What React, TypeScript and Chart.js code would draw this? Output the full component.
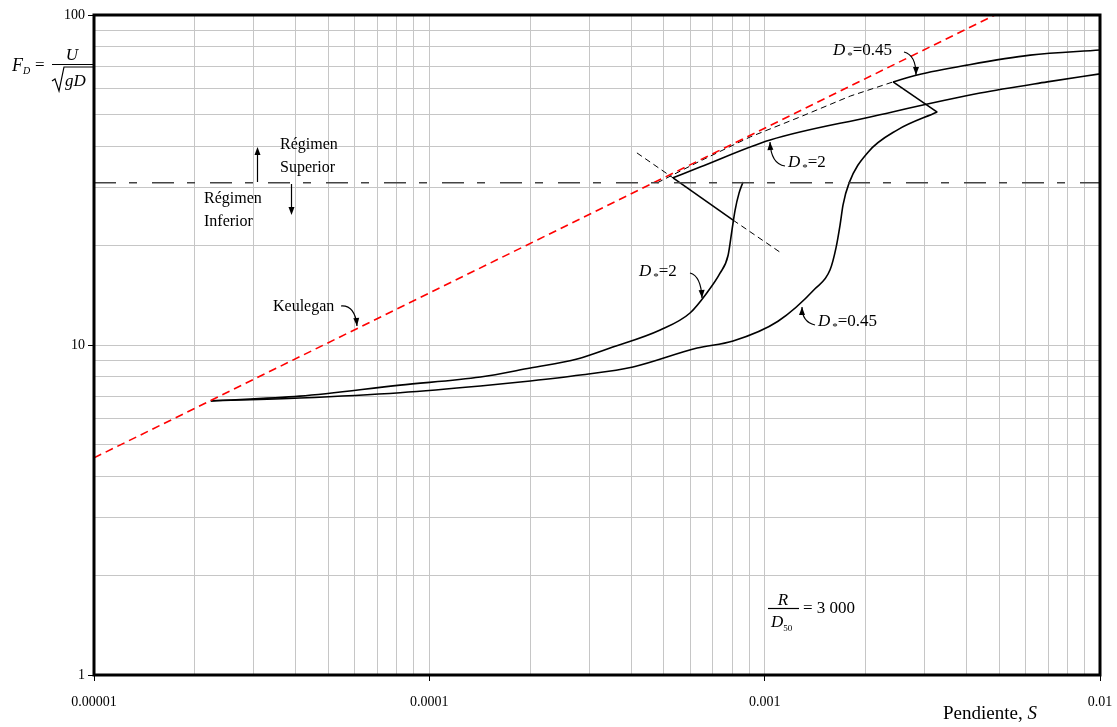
import React, { useEffect, useRef } from 'react';
import { Chart, registerables } from 'chart.js';
Chart.register(...registerables);

// ---- axes ----
const xDecades = [1e-5, 1e-4, 1e-3, 1e-2];
const xTickLabels = ['0.00001', '0.0001', '0.001', '0.01'];
const yDecades = [1, 10, 100];
const yTickLabels = ['1', '10', '100'];

// ---- D* = 2, lower regime branch ----
const d2LowerS = [2.23e-5, 4.11e-5, 8.18e-5, 1.42e-4, 2.0e-4, 2.76e-4, 3.46e-4, 4.88e-4, 5.99e-4, 6.73e-4, 7.36e-4, 7.78e-4, 7.99e-4, 8.16e-4, 8.39e-4, 8.62e-4];
const d2LowerF = [6.77, 7.0, 7.56, 8.0, 8.52, 9.07, 9.79, 11.1, 12.5, 14.4, 16.5, 18.7, 22.3, 25.6, 28.9, 31.2];

// ---- D* = 2, upper regime branch ----
const d2UpperS = [5.33e-4, 6.42e-4, 1.038e-3, 2.063e-3, 4.39e-3, 6.96e-3, 1e-2];
const d2UpperF = [32.1, 34.6, 41.8, 49.1, 58.0, 62.7, 66.3];

// ---- D* = 2 transition (solid part + dashed extensions) ----
const d2JumpS = [5.33e-4, 8.05e-4];
const d2JumpF = [32.1, 23.9];
const d2JumpExtUpS = [4.16e-4, 5.33e-4];
const d2JumpExtUpF = [38.2, 32.1];
const d2JumpExtDownS = [8.05e-4, 1.112e-3];
const d2JumpExtDownF = [23.9, 19.1];

// ---- D* = 0.45, lower regime branch ----
const d045LowerS = [2.23e-5, 4.11e-5, 8.18e-5, 1.42e-4, 2.0e-4, 2.82e-4, 4.05e-4, 6.29e-4, 8.05e-4, 1.096e-3, 1.413e-3, 1.567e-3, 1.632e-3, 1.678e-3, 1.713e-3, 1.786e-3, 2.034e-3, 2.483e-3, 3.27e-3];
const d045LowerF = [6.77, 6.91, 7.17, 7.51, 7.78, 8.11, 8.58, 9.79, 10.28, 11.8, 14.8, 16.9, 19.7, 23.1, 26.6, 31.0, 38.4, 44.8, 50.8];

// ---- D* = 0.45 jump and upper regime branch ----
const d045JumpS = [3.27e-3, 2.415e-3];
const d045JumpF = [50.8, 62.7];
const d045UpperS = [2.415e-3, 2.85e-3, 4.01e-3, 6.19e-3, 1e-2];
const d045UpperF = [62.7, 65.8, 70.5, 75.6, 78.3];

// ---- D* = 0.45 upper branch dashed extension ----
const d045ExtS = [4.78e-4, 6.42e-4, 9.05e-4, 1.275e-3, 1.8e-3, 2.415e-3];
const d045ExtF = [31.0, 36.1, 42.7, 49.1, 56.8, 62.7];

// ---- Keulegan line ----
const keuleganS = [1e-5, 4.86e-3];
const keuleganF = [4.55, 100];

// ---- regime boundary ----
const regimeS = [1e-5, 1e-2];
const regimeF = [31.0, 31.0];

const SERIF = '"Liberation Serif", "Times New Roman", serif';

const pts = (xs: number[], ys: number[]) => xs.map((x, i) => ({ x, y: ys[i] }));

const isDecade = (v: number) => Math.abs(Math.log10(v) - Math.round(Math.log10(v))) < 1e-6;

const gridValues = (decades: number[]) => {
  const out: number[] = [];
  for (let i = 0; i < decades.length - 1; i++) {
    for (let m = 1; m <= 9; m++) out.push(decades[i] * m);
  }
  out.push(decades[decades.length - 1]);
  return out;
};

const labelFor = (value: number, decades: number[], labels: string[]) => {
  const i = decades.findIndex((d) => Math.abs(d - value) / d < 1e-6);
  return i >= 0 ? labels[i] : '';
};

function txt(ctx: CanvasRenderingContext2D, s: string, x: number, y: number, font: string, align: CanvasTextAlign = 'left') {
  ctx.font = font;
  ctx.textAlign = align;
  ctx.textBaseline = 'alphabetic';
  ctx.fillText(s, x, y);
  return ctx.measureText(s).width;
}

function arrowHead(ctx: CanvasRenderingContext2D, x: number, y: number, ang: number) {
  const L = 8, W = 3;
  ctx.beginPath();
  ctx.moveTo(x, y);
  ctx.lineTo(x - L * Math.cos(ang) + W * Math.sin(ang), y - L * Math.sin(ang) - W * Math.cos(ang));
  ctx.lineTo(x - L * Math.cos(ang) - W * Math.sin(ang), y - L * Math.sin(ang) + W * Math.cos(ang));
  ctx.closePath();
  ctx.fill();
}

function curveArrow(ctx: CanvasRenderingContext2D, x0: number, y0: number, cx: number, cy: number, x1: number, y1: number) {
  ctx.beginPath();
  ctx.moveTo(x0, y0);
  ctx.quadraticCurveTo(cx, cy, x1, y1);
  ctx.stroke();
  arrowHead(ctx, x1, y1, Math.atan2(y1 - cy, x1 - cx));
}

function dStar(ctx: CanvasRenderingContext2D, x: number, y: number, rest: string) {
  let w = txt(ctx, 'D', x, y, `italic 17px ${SERIF}`);
  x += w + 2;
  w = txt(ctx, '*', x, y + 4, `11px ${SERIF}`);
  x += w;
  txt(ctx, rest, x, y, `17px ${SERIF}`);
}

const overlayPlugin = {
  id: 'overlay',
  afterDatasetsDraw(chart: any) {
    const ctx: CanvasRenderingContext2D = chart.ctx;
    const a = chart.chartArea;
    ctx.save();
    ctx.strokeStyle = '#000';
    ctx.lineWidth = 3;
    ctx.strokeRect(a.left, a.top, a.right - a.left, a.bottom - a.top);
    ctx.restore();
  },
  afterDraw(chart: any) {
    const ctx: CanvasRenderingContext2D = chart.ctx;
    ctx.save();
    ctx.fillStyle = '#000';
    ctx.strokeStyle = '#000';
    ctx.lineWidth = 1.2;

    // Y axis title: F_D = U / sqrt(gD)
    txt(ctx, 'F', 12, 71, `italic 18px ${SERIF}`);
    txt(ctx, 'D', 23, 74, `italic 10px ${SERIF}`);
    txt(ctx, '=', 35, 70, `17px ${SERIF}`);
    ctx.beginPath();
    ctx.moveTo(52, 64.5);
    ctx.lineTo(93, 64.5);
    ctx.stroke();
    txt(ctx, 'U', 72, 60, `italic 17px ${SERIF}`, 'center');
    ctx.beginPath();
    ctx.moveTo(52, 81);
    ctx.lineTo(55, 79);
    ctx.lineTo(59, 91);
    ctx.lineTo(64, 67);
    ctx.lineTo(93, 67);
    ctx.stroke();
    txt(ctx, 'gD', 65, 86, `italic 17px ${SERIF}`);

    // X axis title
    const w = txt(ctx, 'Pendiente, ', 943, 719, `19px ${SERIF}`);
    txt(ctx, 'S', 943 + w, 719, `italic 19px ${SERIF}`);

    // Regime labels
    txt(ctx, 'Régimen', 280, 149, `16px ${SERIF}`);
    txt(ctx, 'Superior', 280, 172, `16px ${SERIF}`);
    txt(ctx, 'Régimen', 204, 203, `16px ${SERIF}`);
    txt(ctx, 'Inferior', 204, 226, `16px ${SERIF}`);
    ctx.beginPath();
    ctx.moveTo(257.5, 182);
    ctx.lineTo(257.5, 152);
    ctx.stroke();
    arrowHead(ctx, 257.5, 147, -Math.PI / 2);
    ctx.beginPath();
    ctx.moveTo(291.5, 184);
    ctx.lineTo(291.5, 210);
    ctx.stroke();
    arrowHead(ctx, 291.5, 215, Math.PI / 2);

    // Keulegan
    txt(ctx, 'Keulegan', 273, 311, `16px ${SERIF}`);
    curveArrow(ctx, 341, 306, 355, 305, 357, 326);

    // D* labels
    dStar(ctx, 639, 276, '=2');
    curveArrow(ctx, 690, 273, 701, 276, 702, 298);
    dStar(ctx, 788, 167, '=2');
    curveArrow(ctx, 785, 166, 771, 164, 770, 142);
    dStar(ctx, 833, 55, '=0.45');
    curveArrow(ctx, 904, 52, 916, 55, 916, 75);
    dStar(ctx, 818, 326, '=0.45');
    curveArrow(ctx, 815, 325, 802, 322, 802, 307);

    // R / D50 = 3 000
    txt(ctx, 'R', 783, 605, `italic 17px ${SERIF}`, 'center');
    ctx.beginPath();
    ctx.moveTo(768, 608.5);
    ctx.lineTo(799, 608.5);
    ctx.stroke();
    const dw = txt(ctx, 'D', 771, 627, `italic 17px ${SERIF}`);
    txt(ctx, '50', 771 + dw, 631, `9px ${SERIF}`);
    txt(ctx, '= 3 000', 803, 613, `17px ${SERIF}`);

    ctx.restore();
  },
};

export default function App() {
  const ref = useRef<HTMLCanvasElement>(null);

  useEffect(() => {
    if (!ref.current) return;
    const line = (data: { x: number; y: number }[], extra: any) => ({
      data,
      showLine: true,
      pointRadius: 0,
      pointHoverRadius: 0,
      fill: false,
      borderColor: '#000',
      borderWidth: 1.6,
      tension: 0,
      ...extra,
    });

    const chart = new Chart(ref.current, {
      type: 'scatter',
      data: {
        datasets: [
          line(pts(regimeS, regimeF), { borderColor: '#444', borderWidth: 1.5, borderDash: [22, 13, 8, 15] }),
          line(pts(keuleganS, keuleganF), { borderColor: '#ff0000', borderWidth: 1.6, borderDash: [8, 5] }),
          line(pts(d045ExtS, d045ExtF), { borderWidth: 1, borderDash: [6, 4] }),
          line(pts(d2JumpExtUpS, d2JumpExtUpF), { borderWidth: 1, borderDash: [6, 4] }),
          line(pts(d2JumpExtDownS, d2JumpExtDownF), { borderWidth: 1, borderDash: [6, 4] }),
          line(pts(d2LowerS, d2LowerF), { cubicInterpolationMode: 'monotone' }),
          line(pts(d2JumpS, d2JumpF), {}),
          line(pts(d2UpperS, d2UpperF), { cubicInterpolationMode: 'monotone' }),
          line(pts(d045LowerS, d045LowerF), { cubicInterpolationMode: 'monotone' }),
          line(pts(d045JumpS, d045JumpF), {}),
          line(pts(d045UpperS, d045UpperF), { cubicInterpolationMode: 'monotone' }),
        ],
      },
      options: {
        animation: false,
        responsive: false,
        events: [],
        layout: { padding: { left: 0, right: 17, top: 15, bottom: 0 } },
        plugins: { legend: { display: false }, tooltip: { enabled: false } },
        scales: {
          x: {
            type: 'logarithmic',
            min: 1e-5,
            max: 1e-2,
            afterBuildTicks: (s: any) => {
              s.ticks = gridValues(xDecades).map((v) => ({ value: v }));
            },
            afterFit: (s: any) => {
              s.height = 52;
              s.paddingLeft = 0;
              s.paddingRight = 0;
            },
            border: { display: false },
            grid: {
              color: '#c6c6c6',
              lineWidth: 1,
              tickLength: 6,
              tickColor: (c: any) => (c.tick && isDecade(c.tick.value) ? '#000' : 'rgba(0,0,0,0)'),
            },
            ticks: {
              autoSkip: false,
              maxRotation: 0,
              minRotation: 0,
              padding: 13,
              color: '#000',
              font: { family: SERIF, size: 14 },
              callback: (v: any) => labelFor(Number(v), xDecades, xTickLabels),
            },
          },
          y: {
            type: 'logarithmic',
            min: 1,
            max: 100,
            afterBuildTicks: (s: any) => {
              s.ticks = gridValues(yDecades).map((v) => ({ value: v }));
            },
            afterFit: (s: any) => {
              s.width = 94;
              s.paddingTop = 0;
              s.paddingBottom = 0;
            },
            border: { display: false },
            grid: {
              color: '#c6c6c6',
              lineWidth: 1,
              tickLength: 6,
              tickColor: (c: any) => (c.tick && isDecade(c.tick.value) ? '#000' : 'rgba(0,0,0,0)'),
            },
            ticks: {
              autoSkip: false,
              padding: 3,
              color: '#000',
              font: { family: SERIF, size: 14 },
              callback: (v: any) => labelFor(Number(v), yDecades, yTickLabels),
            },
          },
        },
      },
      plugins: [overlayPlugin],
    } as any);
    return () => chart.destroy();
  }, []);

  return (
    <div style={{ position: 'absolute', left: 0, top: 0, width: 1117, height: 727, background: '#fff' }}>
      <canvas ref={ref} width={1117} height={727} style={{ display: 'block', width: 1117, height: 727 }} />
    </div>
  );
}
